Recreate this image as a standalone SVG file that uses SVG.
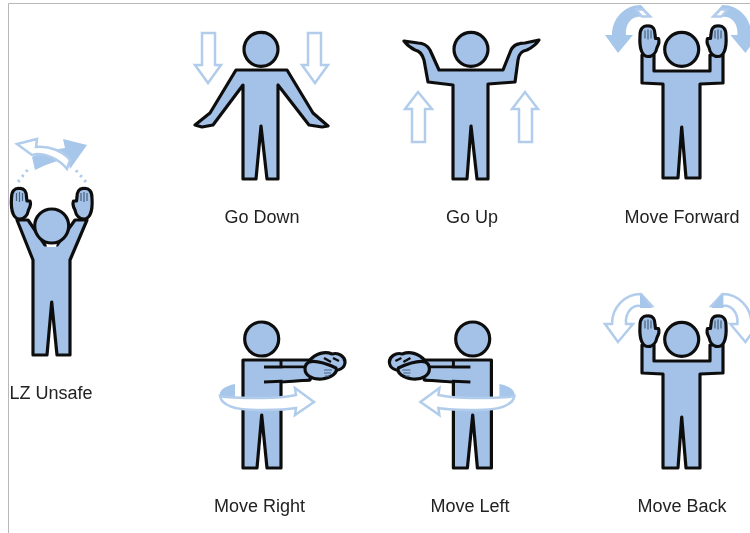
<svg xmlns="http://www.w3.org/2000/svg" width="750" height="533" viewBox="0 0 750 533">
<style>
.b{fill:#a4c2e8;stroke:#111;stroke-width:3.200;stroke-linejoin:round}
.l{fill:none;stroke:#111;stroke-width:3}
.o{fill:#fff;stroke:#b2cdec;stroke-width:2.500}
.s{fill:#a6c6ea;stroke:none}
.f{stroke:#46607e;stroke-width:1.200;fill:none}
text{font-family:"Liberation Sans",Arial,sans-serif;font-size:18px;fill:#222;text-anchor:middle}
</style>
<defs>
<filter id="soft" x="-2%" y="-2%" width="104%" height="104%"><feGaussianBlur stdDeviation="0.55"/></filter>
<g id="hand">
<path class="b" d="M-9-6C-9-13-6-16-1-15.500C4-16 6-12 6-7L6.500-3L9.500-3C11 1 9 4 8 6C7 12 3 15-1 15C-6 15-10 9-9-6Z"/>
<path class="f" d="M-4-11V-3M-1-12V-2M2-11V-3"/>
</g>
<path id="band" d="M612 35C612 18 625 5 641 5L652 17L641 17C632 15 625 24 626 35L633 35L618 53L605 35Z"/>
<g id="fist">
<path class="b" d="M309 361C316 353 325 351 332 354C339 352 345 357 345 362C345 368 339 371 331 371L312 368Z"/>
<path class="b" d="M309 362C316 360 325 363 336 368C338 373 331 378 322 379C312 380 305 375 305 369C305 366 307 363 309 362Z"/>
<path class="f" d="M324 370H332M324 373H331M325 376H329"/>
<path d="M324 358L331 362M333 358L339 361" stroke="#111" stroke-width="2.500" fill="none"/>
</g>
<g id="outstretched">
<path class="s" d="M220 398C218 390 225 386 235 384L235 397C228 398 224 400 222 403Z"/>
<circle class="b" cx="261.700" cy="339" r="17"/>
<path class="b" d="M243 360H315V367L310 380L281 382V468H267L261.700 415L257 468H243Z"/>
<path class="l" d="M281 360V367M264 367H312M264 382L310 380"/>
<path fill="#a4c2e8" d="M282.500 368.500H308V378.500L282.500 380.500Z"/>
<use href="#fist"/>
<path class="o" d="M220 396C228 398 240 398 262 398C275 398 287 397 296 395L295 388L314 402L295 415L296 408C285 410 270 410 258 410C238 410 222 407 220 396Z"/>
</g>
<g id="raised">
<path class="b" d="M654 55V71H710V55H723V83L700 84V178H686L681.700 127L678 178H663V84L642 83V55Z"/>
<circle class="b" cx="681.700" cy="49.300" r="17"/>
<use href="#hand" x="649" y="41.500"/>
<use href="#hand" transform="matrix(-1 0 0 1 1366 0)" x="649" y="41.500"/>
</g>
</defs>
<rect width="750" height="533" fill="#fff"/>
<g id="frame" fill="none" stroke="#b8b8b8" stroke-width="1"><path d="M8.500 533V3.500H750"/></g>
<g filter="url(#soft)">
<g id="connectors"></g>
<g id="lz-unsafe">
<path d="M18 182L29 168M86 182L74 168" stroke="#b2cdec" stroke-width="3" stroke-dasharray="2.500 4" fill="none"/>
<path class="s" d="M32 157L35 170C45 165 58 160 68 159L70 169L87 145L63 139L65 148C52 150 42 152 32 157Z"/>
<path class="o" stroke-width="2" d="M17 144L37 139L36 147C50 146 63 151 70 160L67 169C60 160 48 154 37 154L32 155Z"/>
<path class="b" d="M17 220L28 220L45 245H57L75 220H87L70 260V355H57L51.700 302L47 355H33V260Z"/>
<path d="M46 243H57L56 247H47Z" fill="#fff"/>
<circle class="b" cx="51.700" cy="226" r="17"/>
<use href="#hand" x="20.500" y="204"/>
<use href="#hand" transform="matrix(-1 0 0 1 103.500 0)" x="20.500" y="204"/>
<text x="51" y="399">LZ Unsafe</text>
</g>
<g id="go-down">
<path class="o" d="M202 33H215V65H221L208 83L195 65H202Z"/>
<path class="o" d="M308 33H321V65H328L315 83L302 65H308Z"/>
<path class="b" d="M236 70H287L313 113L328 126L322 127L309 125L278 85V179H267L261 126L256 179H243V85L213 125L202 127L195 125L210 113Z"/>
<circle class="b" cx="261" cy="49.300" r="17"/>
<text x="262" y="223">Go Down</text>
</g>
<g id="go-up">
<path class="o" d="M412 142V109H405L418 92L432 109H425V142Z"/>
<path class="o" d="M519 142V109H512L525 92L538 109H532V142Z"/>
<path class="b" d="M439 70H503L511 50C514 44 520 43 525 43L539 40C536 45 531 48 527 50C521 51 519 54 518 60L515 82L488 84V179H477L471 126L467 179H453V85L428 82L424 60C422 54 420 51 415 50C411 48 407 45 404 41L418 43C423 43 427 45 430 50Z"/>
<circle class="b" cx="471" cy="49.300" r="17"/>
<text x="472" y="223">Go Up</text>
</g>
<g id="move-forward">
<g class="s"><use href="#band"/><use href="#band" transform="matrix(-1 0 0 1 1363.400 0)"/></g>
<path class="o" stroke-width="1.500" d="M636 9.500H643L650 16.500H642Z"/>
<path class="o" stroke-width="1.500" d="M727.400 9.500H720.400L713.400 16.500H721.400Z"/>
<use href="#raised"/>
<text x="682" y="223">Move Forward</text>
</g>
<g id="move-right">
<use href="#outstretched"/>
<text x="259.500" y="512">Move Right</text>
</g>
<g id="move-left">
<use href="#outstretched" transform="matrix(-1 0 0 1 734.400 0)"/>
<text x="470" y="512">Move Left</text>
</g>
<g id="move-back">
<g class="o" transform="translate(0 289)"><use href="#band"/><use href="#band" transform="matrix(-1 0 0 1 1363.400 0)"/></g>
<path class="s" d="M640 295H642L652 308H640Z"/>
<path class="s" d="M723.400 295H721.400L711.400 308H723.400Z"/>
<use href="#raised" transform="translate(0 290)"/>
<text x="682" y="512">Move Back</text>
</g>
</g>
</svg>
